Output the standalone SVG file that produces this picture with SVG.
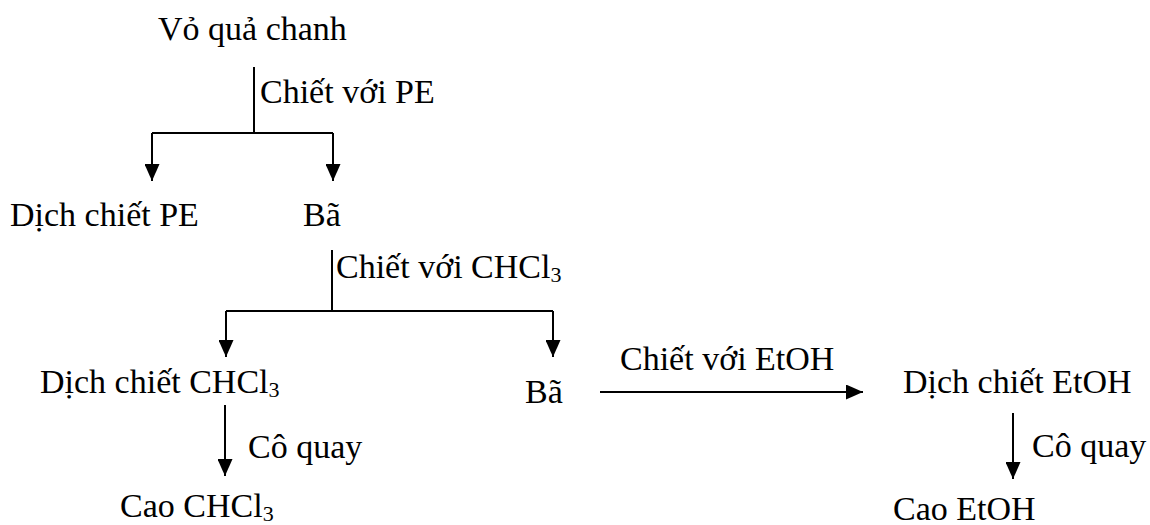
<svg xmlns="http://www.w3.org/2000/svg" width="1150" height="525" viewBox="0 0 1150 525">
  <style>
    text { font-family: "Liberation Serif", "Times New Roman", serif; font-size: 34px; fill: #000; }
    .sub { font-size: 22px; }
    .ln { stroke: #000; stroke-width: 2; fill: none; }
  </style>
  <defs>
    <marker id="ah" markerUnits="userSpaceOnUse" markerWidth="17" markerHeight="15" refX="17" refY="7.5" orient="auto">
      <path d="M0,0 L17,7.5 L0,15 z" fill="#000"/>
    </marker>
  </defs>
  <rect width="1150" height="525" fill="#fff"/>

  <g id="connectors">
    <!-- split after PE extraction -->
    <line class="ln" x1="254" y1="67" x2="254" y2="133"/>
    <line class="ln" x1="152" y1="133" x2="333" y2="133"/>
    <line class="ln" x1="152" y1="133" x2="152" y2="181" marker-end="url(#ah)"/>
    <line class="ln" x1="333" y1="133" x2="333" y2="181" marker-end="url(#ah)"/>
    <!-- split after CHCl3 extraction -->
    <line class="ln" x1="332" y1="250" x2="332" y2="311"/>
    <line class="ln" x1="226" y1="311" x2="553" y2="311"/>
    <line class="ln" x1="226" y1="311" x2="226" y2="357" marker-end="url(#ah)"/>
    <line class="ln" x1="553" y1="311" x2="553" y2="357" marker-end="url(#ah)"/>
    <!-- EtOH extraction -->
    <line class="ln" x1="600" y1="392" x2="863" y2="392" marker-end="url(#ah)"/>
    <!-- rotary evaporation -->
    <line class="ln" x1="225" y1="405" x2="225" y2="476" marker-end="url(#ah)"/>
    <line class="ln" x1="1013" y1="413" x2="1013" y2="479" marker-end="url(#ah)"/>
  </g>

  <g id="vo-qua-chanh"><text x="158" y="40">Vỏ quả chanh</text></g>
  <g id="lbl-pe"><text x="260" y="103">Chiết với PE</text></g>
  <g id="dich-chiet-pe"><text x="10" y="226">Dịch chiết PE</text></g>
  <g id="ba-1"><text x="303" y="226">Bã</text></g>
  <g id="lbl-chcl3"><text x="336" y="278">Chiết với CHCl<tspan class="sub" dy="4">3</tspan></text></g>
  <g id="dich-chiet-chcl3"><text x="40" y="393">Dịch chiết CHCl<tspan class="sub" dy="4">3</tspan></text></g>
  <g id="ba-2"><text x="525" y="403">Bã</text></g>
  <g id="lbl-etoh"><text x="620" y="370">Chiết với EtOH</text></g>
  <g id="dich-chiet-etoh"><text x="903" y="393">Dịch chiết EtOH</text></g>
  <g id="lbl-co-quay-1"><text x="248" y="458">Cô quay</text></g>
  <g id="cao-chcl3"><text x="120" y="517">Cao CHCl<tspan class="sub" dy="4">3</tspan></text></g>
  <g id="lbl-co-quay-2"><text x="1032" y="457">Cô quay</text></g>
  <g id="cao-etoh"><text x="893" y="520">Cao EtOH</text></g>
</svg>
